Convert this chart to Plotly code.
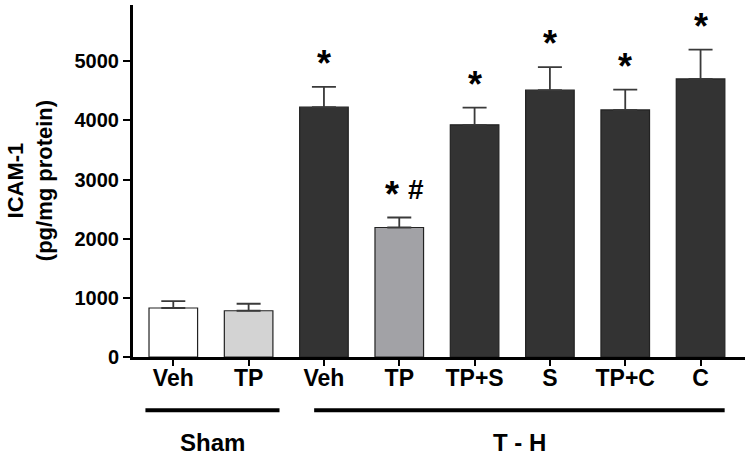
import plotly.graph_objects as go

categories = ["Veh", "TP", "Veh ", "TP ", "TP+S", "S", "TP+C", "C"]
means = [828, 782, 4223, 2189, 3924, 4510, 4177, 4701]
sems = [118, 118, 343, 169, 292, 389, 343, 495]
bar_colors = ["#ffffff", "#d3d3d3", "#333333", "#a2a2a6", "#333333", "#333333", "#333333", "#333333"]
stars = ["", "", "*", "*", "*", "*", "*", "*"]
hashes = ["", "", "", "#", "", "", "", ""]
y_ticks = [0, 1000, 2000, 3000, 4000, 5000]
groups = ["Sham", "T - H"]
group_spans = [(-0.37, 1.41), (1.87, 7.32)]

FONT = "Liberation Sans, Arial, sans-serif"
x_idx = list(range(len(categories)))

fig = go.Figure()
fig.add_trace(go.Bar(
    x=x_idx, y=means, width=0.645,
    marker=dict(color=bar_colors, line=dict(color="#222222", width=1.2)),
    error_y=dict(type="data", symmetric=False, array=sems, arrayminus=[0]*len(sems),
                 color="#3a3a3a", thickness=1.8, width=12),
    showlegend=False, hoverinfo="skip",
))

annotations = []
for i, (m, s, t, h) in enumerate(zip(means, sems, stars, hashes)):
    if t:
        annotations.append(dict(x=i, y=m + s, xref="x", yref="y", text=t, showarrow=False,
                                yanchor="bottom", yshift=1, xshift=-7 if h else 0,
                                font=dict(family=FONT, size=36, color="#000000", weight="bold")))
    if h:
        annotations.append(dict(x=i, y=m + s, xref="x", yref="y", text=h, showarrow=False,
                                yanchor="bottom", yshift=11, xshift=17,
                                font=dict(family=FONT, size=28, color="#000000", weight="bold")))
shapes = []
for g, (a, b) in zip(groups, group_spans):
    shapes.append(dict(type="line", xref="x", yref="paper", x0=a, x1=b, y0=-0.151, y1=-0.151,
                       line=dict(color="#000000", width=4)))
    annotations.append(dict(x=(a + b) / 2, y=-0.244, xref="x", yref="paper", text=g,
                            showarrow=False, yanchor="middle",
                            font=dict(family=FONT, size=24, color="#000000", weight="bold")))

annotations.append(dict(x=-0.168, y=0.5, xref="paper", yref="paper", textangle=-90,
                        xanchor="center", yanchor="middle",
                        text="ICAM-1<br>(pg/mg protein)", showarrow=False,
                        font=dict(family=FONT, size=22, color="#000000", weight="bold")))

fig.update_layout(
    width=751, height=457,
    margin=dict(l=133, r=6, t=5, b=100),
    paper_bgcolor="white", plot_bgcolor="white",
    annotations=annotations, shapes=shapes,
    xaxis=dict(range=[-0.535, 7.59], tickmode="array", tickvals=x_idx,
               ticktext=[c.strip() for c in categories],
               showline=True, linecolor="#000000", linewidth=3,
               ticks="outside", ticklen=6, tickwidth=2, tickcolor="#000000",
               ticklabelstandoff=-8,
               showgrid=False, zeroline=False,
               tickfont=dict(family=FONT, size=23, color="#000000", weight="bold")),
    yaxis=dict(range=[0, 5950], tickmode="array", tickvals=y_ticks,
               showline=True, linecolor="#000000", linewidth=3,
               ticks="outside", ticklen=7, tickwidth=2, tickcolor="#000000",
               showgrid=False, zeroline=False,
               tickfont=dict(family=FONT, size=20, color="#000000", weight="bold")),
)
fig.write_html("out.html", config={"displayModeBar": False},
               post_script="document.body.style.margin='0px';")
